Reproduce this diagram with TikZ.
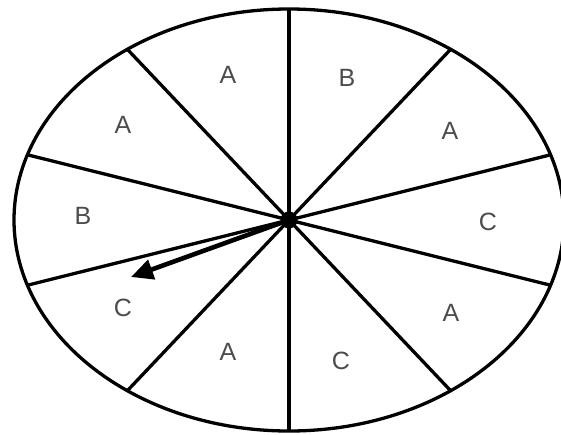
\documentclass[tikz,border=0pt]{standalone}
\usepackage{fontspec}
\setmainfont{Liberation Sans}
\usetikzlibrary{arrows.meta, positioning}

\begin{document}
\begin{tikzpicture}[x=1pt, y=-1pt, line width=3.3pt,
  sector/.style={text=black!70, font=\fontsize{25}{25}\selectfont}]
\useasboundingbox (0,0) rectangle (561,434);
\fill[white] (0,0) rectangle (561,434);
\draw (289,220) ellipse [x radius=275, y radius=211];
\foreach \a in {18,54,...,342}
  \draw (289,220) -- ++(\a:275 and 211);
\node[circle, fill=black, inner sep=0pt, minimum size=17pt] (hub) at (289,220) {};
\coordinate (tip) at (131,277);
\draw[line width=4.6pt, -{Triangle[length=22pt, width=20pt]}] (hub.center) -- (tip);
\node[sector] (a1) at (228,75) {A};
\node[sector] (b1) at (347,78) {B};
\node[sector] (a2) at (123,125) {A};
\node[sector] (a3) at (450,131) {A};
\node[sector] (b2) at (83,216) {B};
\node[sector] (c1) at (488,222) {C};
\node[sector] (c2) at (123,308) {C};
\node[sector] (a4) at (451,313) {A};
\node[sector] (a5) at (228,352) {A};
\node[sector] (c3) at (341,361) {C};
\end{tikzpicture}
\end{document}
